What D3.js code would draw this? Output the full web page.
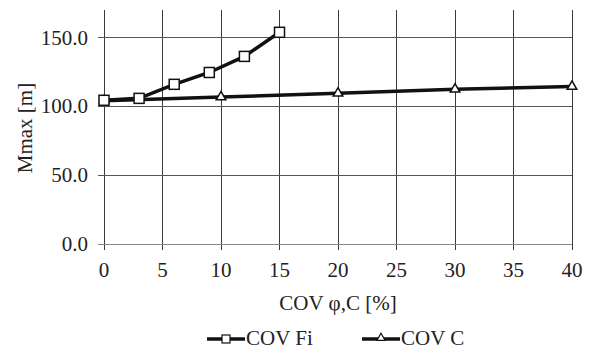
<!DOCTYPE html>
<html><head><meta charset="utf-8">
<script src="https://cdn.jsdelivr.net/npm/d3@7"></script>
<style>body{margin:0;background:#fff}svg{display:block}text{font-family:"Liberation Serif","Times New Roman",serif;fill:#222}</style>
</head><body><svg id="c" width="598" height="350"></svg>
<script>
const xTicks = [0,5,10,15,20,25,30,35,40];
const yTicks = [0,50,100,150];
const fiX = [0,3,6,9,12,15];
const fiY = [104.4,105.8,116.0,124.6,136.3,153.8];
const cX = [0,10,20,30,40];
const cY = [104.0,106.8,109.5,112.4,114.4];
const seriesNames = ["COV Fi","COV C"];

const svg = d3.select("#c");
const L=104, R=572, T=10, B=244;
const FS=21;
const x = d3.scaleLinear().domain([0,40]).range([L,R]);
const y = d3.scaleLinear().domain([0,170]).range([B,T]);

// grid
svg.append("g").selectAll("line").data(xTicks).join("line")
  .attr("x1",d=>x(d)).attr("x2",d=>x(d)).attr("y1",T).attr("y2",B+6)
  .attr("stroke","#3a3a3a").attr("stroke-width",1).attr("shape-rendering","crispEdges");
svg.append("g").selectAll("line").data(yTicks).join("line")
  .attr("x1",L-6).attr("x2",R).attr("y1",d=>y(d)).attr("y2",d=>y(d))
  .attr("stroke",d=>d===0?"#888":"#555").attr("stroke-width",1).attr("shape-rendering","crispEdges");

// tick labels
svg.append("g").selectAll("text").data(xTicks).join("text")
  .attr("x",d=>x(d)).attr("y",B+33).attr("text-anchor","middle").attr("font-size",FS).text(d=>d);
svg.append("g").selectAll("text").data(yTicks).join("text")
  .attr("x",L-16).attr("y",d=>y(d)+7).attr("text-anchor","end").attr("font-size",FS).text(d=>d3.format(".1f")(d));

// axis titles
svg.append("text").attr("x",338).attr("y",310).attr("text-anchor","middle").attr("font-size",FS).text("COV φ,C [%]");
svg.append("text").attr("transform","translate(32,128) rotate(-90)").attr("text-anchor","middle").attr("font-size",FS).text("Mmax [m]");

const line = d3.line().x(d=>x(d[0])).y(d=>y(d[1]));
const fi = fiX.map((v,i)=>[v,fiY[i]]);
const cc = cX.map((v,i)=>[v,cY[i]]);

svg.append("path").datum(cc).attr("d",line).attr("fill","none").attr("stroke","#111").attr("stroke-width",3.5);
svg.append("path").datum(fi).attr("d",line).attr("fill","none").attr("stroke","#111").attr("stroke-width",3.5);

const tri = d3.symbol().type(d3.symbolTriangle).size(40);
svg.append("g").selectAll("path").data(cc).join("path")
  .attr("transform",d=>`translate(${x(d[0])},${y(d[1])})`).attr("d",tri)
  .attr("fill","#fff").attr("stroke","#111").attr("stroke-width",1.5);
svg.append("g").selectAll("rect").data(fi).join("rect")
  .attr("x",d=>x(d[0])-5).attr("y",d=>y(d[1])-5).attr("width",10).attr("height",10)
  .attr("fill","#fff").attr("stroke","#111").attr("stroke-width",1.5);

// legend
const lg = svg.append("g");
const ly = 339;
lg.append("line").attr("x1",207).attr("x2",245).attr("y1",ly).attr("y2",ly).attr("stroke","#111").attr("stroke-width",3.5);
lg.append("rect").attr("x",222).attr("y",ly-4).attr("width",8).attr("height",8).attr("fill","#fff").attr("stroke","#111").attr("stroke-width",1.2);
lg.append("text").attr("x",246).attr("y",345).attr("font-size",FS).text(seriesNames[0]);
lg.append("line").attr("x1",362).attr("x2",400).attr("y1",ly).attr("y2",ly).attr("stroke","#111").attr("stroke-width",3.5);
lg.append("path").attr("transform",`translate(381,${ly-1})`).attr("d",d3.symbol().type(d3.symbolTriangle).size(30)).attr("fill","#fff").attr("stroke","#111").attr("stroke-width",1.2);
lg.append("text").attr("x",401).attr("y",345).attr("font-size",FS).text(seriesNames[1]);
</script></body></html>
